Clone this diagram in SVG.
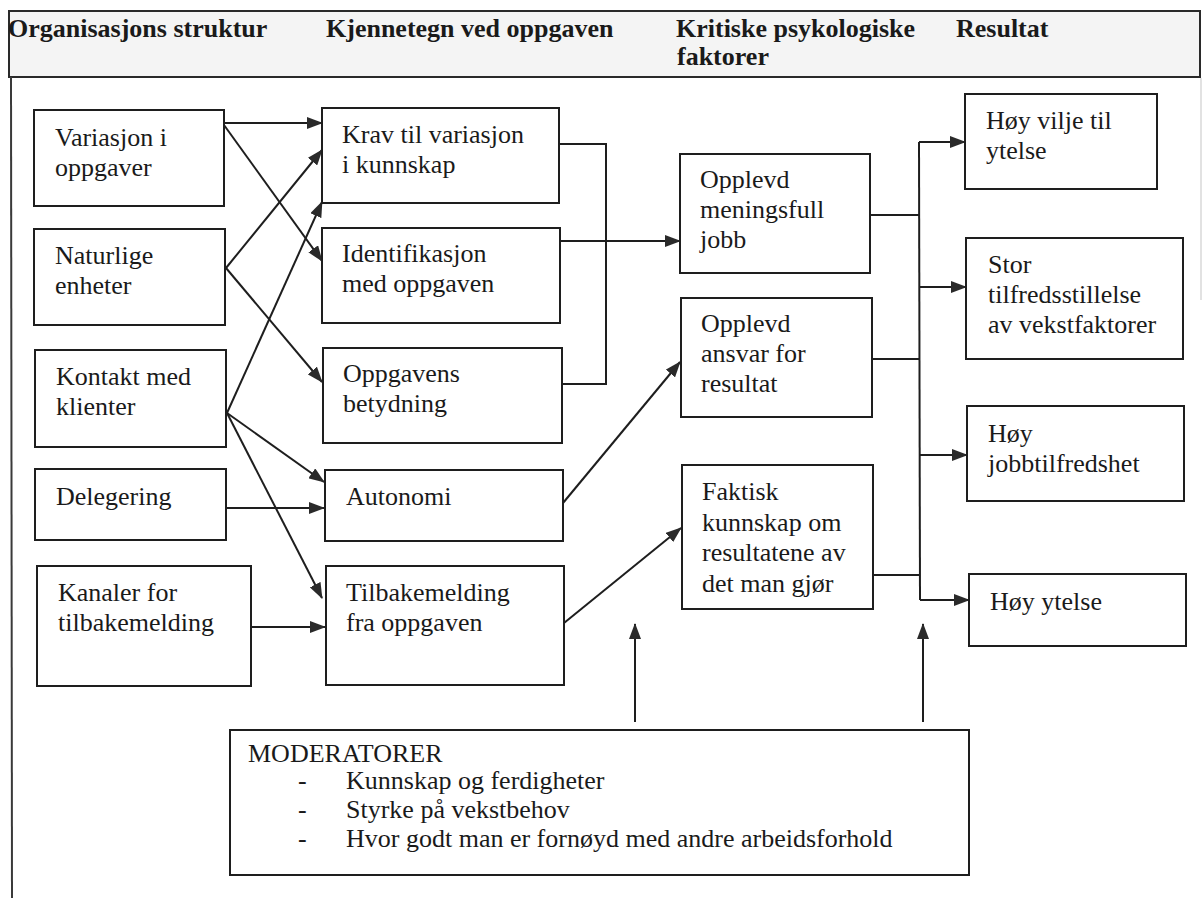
<svg xmlns="http://www.w3.org/2000/svg" width="1204" height="898" viewBox="0 0 1204 898">
<style>
.box{fill:#fff;stroke:#1e1e1e;stroke-width:2}
.t{font-family:"Liberation Serif","Times New Roman",serif;font-size:26px;fill:#1a1a1a}
.h{font-family:"Liberation Serif","Times New Roman",serif;font-size:26px;font-weight:bold;fill:#1a1a1a}
.c{fill:none;stroke:#1e1e1e;stroke-width:2}
</style>
<defs>
<marker id="ah" viewBox="0 0 16 12" refX="15" refY="6" markerWidth="16" markerHeight="12" markerUnits="userSpaceOnUse" orient="auto">
<path d="M0,0 L16,6 L0,12 Z" fill="#2a2a2a"/>
</marker>
</defs>
<rect width="1204" height="898" fill="#fff"/>
<g id="frame">
<rect x="9" y="11" width="1191" height="66" fill="#f4f4f4" stroke="#2a2a2a" stroke-width="2"/>
<line x1="11" y1="77" x2="12" y2="898" stroke="#3a3a3a" stroke-width="2"/>
<line x1="1201" y1="78" x2="1201" y2="300" stroke="#d8d8d8" stroke-width="1.5"/>
<text class="h" x="8" y="37">Organisasjons struktur</text>
<text class="h" x="326" y="37">Kjennetegn ved oppgaven</text>
<text class="h" x="676" y="37">Kritiske psykologiske</text>
<text class="h" x="677" y="65">faktorer</text>
<text class="h" x="956" y="37">Resultat</text>
</g>
<g id="connectors">
<path class="c" d="M224,123 L322,123" marker-end="url(#ah)"/>
<path class="c" d="M224,125 L322,261" marker-end="url(#ah)"/>
<path class="c" d="M226,268 L322,150" marker-end="url(#ah)"/>
<path class="c" d="M226,268 L322,382" marker-end="url(#ah)"/>
<path class="c" d="M227,413 L322,202" marker-end="url(#ah)"/>
<path class="c" d="M227,413 L324,482" marker-end="url(#ah)"/>
<path class="c" d="M227,413 L322,598" marker-end="url(#ah)"/>
<path class="c" d="M226,508 L324,508" marker-end="url(#ah)"/>
<path class="c" d="M251,627 L325,627" marker-end="url(#ah)"/>
<path class="c" d="M559,144 L606,144 L606,384 L561,384"/>
<path class="c" d="M559,241 L680,241" marker-end="url(#ah)"/>
<path class="c" d="M563,503 L680,362" marker-end="url(#ah)"/>
<path class="c" d="M564,623 L681,528" marker-end="url(#ah)"/>
<path class="c" d="M870,215 L919,215"/>
<path class="c" d="M872,359 L919,359"/>
<path class="c" d="M873,575 L920,575"/>
<path class="c" d="M919,142 L920,600"/>
<path class="c" d="M919,142 L965,142" marker-end="url(#ah)"/>
<path class="c" d="M919,287 L966,287" marker-end="url(#ah)"/>
<path class="c" d="M919,455 L967,455" marker-end="url(#ah)"/>
<path class="c" d="M920,600 L969,600" marker-end="url(#ah)"/>
<path class="c" d="M635,722 L635,624" marker-end="url(#ah)"/>
<path class="c" d="M923,722 L923,624" marker-end="url(#ah)"/>
</g>
<g id="n-variasjon"><rect class="box" x="34" y="110" width="190" height="96"/><text class="t" x="55" y="146">Variasjon i</text><text class="t" x="55" y="176">oppgaver</text></g>
<g id="n-naturlige"><rect class="box" x="34" y="229" width="191" height="96"/><text class="t" x="55" y="264">Naturlige</text><text class="t" x="55" y="294">enheter</text></g>
<g id="n-kontakt"><rect class="box" x="35" y="350" width="191" height="97"/><text class="t" x="56" y="385">Kontakt med</text><text class="t" x="56" y="415">klienter</text></g>
<g id="n-delegering"><rect class="box" x="35" y="469" width="191" height="71"/><text class="t" x="56" y="505">Delegering</text></g>
<g id="n-kanaler"><rect class="box" x="37" y="566" width="214" height="120"/><text class="t" x="58" y="601">Kanaler for</text><text class="t" x="58" y="631">tilbakemelding</text></g>
<g id="n-krav"><rect class="box" x="322" y="108" width="237" height="95"/><text class="t" x="342" y="143">Krav til variasjon</text><text class="t" x="342" y="173">i kunnskap</text></g>
<g id="n-identifikasjon"><rect class="box" x="322" y="228" width="238" height="95"/><text class="t" x="342" y="262">Identifikasjon</text><text class="t" x="342" y="292">med oppgaven</text></g>
<g id="n-oppgavens"><rect class="box" x="323" y="348" width="239" height="95"/><text class="t" x="343" y="382">Oppgavens</text><text class="t" x="343" y="412">betydning</text></g>
<g id="n-autonomi"><rect class="box" x="325" y="470" width="238" height="71"/><text class="t" x="346" y="505">Autonomi</text></g>
<g id="n-tilbakemelding"><rect class="box" x="326" y="566" width="238" height="119"/><text class="t" x="346" y="601">Tilbakemelding</text><text class="t" x="346" y="631">fra oppgaven</text></g>
<g id="n-meningsfull"><rect class="box" x="680" y="154" width="190" height="119"/><text class="t" x="700" y="188">Opplevd</text><text class="t" x="700" y="218">meningsfull</text><text class="t" x="700" y="248">jobb</text></g>
<g id="n-ansvar"><rect class="box" x="681" y="298" width="191" height="119"/><text class="t" x="701" y="332">Opplevd</text><text class="t" x="701" y="362">ansvar for</text><text class="t" x="701" y="392">resultat</text></g>
<g id="n-faktisk"><rect class="box" x="682" y="465" width="191" height="144"/><text class="t" x="702" y="500">Faktisk</text><text class="t" x="702" y="531">kunnskap om</text><text class="t" x="702" y="561">resultatene av</text><text class="t" x="702" y="592">det man gjør</text></g>
<g id="n-vilje"><rect class="box" x="965" y="94" width="192" height="95"/><text class="t" x="986" y="129">Høy vilje til</text><text class="t" x="986" y="159">ytelse</text></g>
<g id="n-stor"><rect class="box" x="966" y="238" width="217" height="121"/><text class="t" x="988" y="273">Stor</text><text class="t" x="988" y="303">tilfredsstillelse</text><text class="t" x="988" y="333">av vekstfaktorer</text></g>
<g id="n-jobb"><rect class="box" x="967" y="406" width="217" height="95"/><text class="t" x="988" y="442">Høy</text><text class="t" x="988" y="472">jobbtilfredshet</text></g>
<g id="n-ytelse"><rect class="box" x="969" y="574" width="217" height="72"/><text class="t" x="990" y="610">Høy ytelse</text></g>
<g id="n-moderatorer"><rect class="box" x="230" y="730" width="739" height="145"/>
<text class="t" x="248" y="762">MODERATORER</text>
<text class="t" x="298" y="789">-</text><text class="t" x="346" y="789">Kunnskap og ferdigheter</text>
<text class="t" x="298" y="818">-</text><text class="t" x="346" y="818">Styrke på vekstbehov</text>
<text class="t" x="298" y="847">-</text><text class="t" x="346" y="847">Hvor godt man er fornøyd med andre arbeidsforhold</text>
</g>
</svg>
